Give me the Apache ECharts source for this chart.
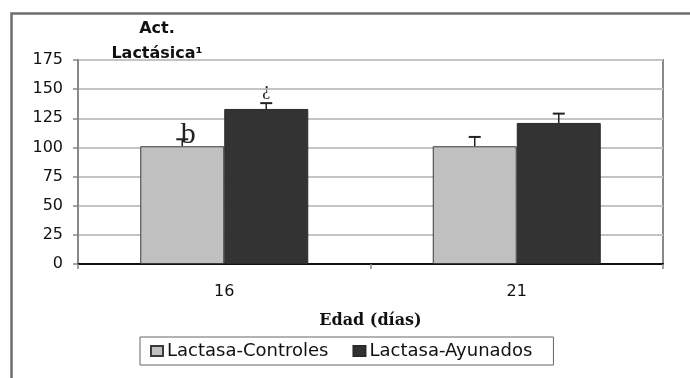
<!DOCTYPE html>
<html>
<head>
<meta charset="utf-8">
<script src="https://cdn.jsdelivr.net/npm/echarts@6/dist/echarts.min.js"></script>
<style>
  html, body { margin: 0; padding: 0; background: #fff; }
  #chart { width: 690px; height: 378px; }
</style>
</head>
<body>
<div id="chart"></div>
<script>
// Lactase activity by age, control vs fasted groups
const ages = ['16', '21'];
const controles = [101, 101];
const ayunados = [133, 121];
const errControles = [6, 8];
const errAyunados = [5, 8];
const marksControles = ['b', ''];
const marksAyunados = ['¿', ''];
const yTicks = { min: 0, max: 175, interval: 25 };

const BAR_W = 84;
const SANS = 'DejaVu Sans';
const SERIF = 'Liberation Serif';

function barData(values, marks) {
  return values.map((v, i) => ({
    value: v,
    label: { show: marks[i] !== '', formatter: marks[i] }
  }));
}

function errData(values, errs) {
  return values.map((v, i) => [i, v, errs[i]]);
}

function errorRenderer(offset) {
  return function (params, api) {
    const base = api.coord([api.value(0), api.value(1)]);
    const top = api.coord([api.value(0), api.value(1) + api.value(2)]);
    const x = base[0] + offset;
    return {
      type: 'group',
      children: [
        { type: 'line', shape: { x1: x, y1: base[1], x2: x, y2: top[1] },
          style: { stroke: '#222', lineWidth: 1.5 } },
        { type: 'line', shape: { x1: x - 6, y1: top[1], x2: x + 6, y2: top[1] },
          style: { stroke: '#222', lineWidth: 2 } }
      ]
    };
  };
}

const chart = echarts.init(document.getElementById('chart'), null, { renderer: 'canvas' });

chart.setOption({
  animation: false,
  backgroundColor: '#fff',
  title: {
    text: 'Act.\nLactásica¹',
    left: 157,
    top: 16,
    padding: 0,
    textAlign: 'center',
    textStyle: { fontFamily: SANS, fontSize: 16, fontWeight: 'bold', lineHeight: 25, color: '#111' }
  },
  graphic: [
    { type: 'rect', left: 9, top: 11, shape: { width: 720, height: 420 },
      style: { fill: 'none', stroke: '#6e6e6e', lineWidth: 2.5 }, silent: true, z: -1 }
  ],
  legend: {
    left: 140,
    top: 337,
    padding: [5, 21, 5, 10],
    itemWidth: 12,
    itemHeight: 10,
    itemGap: 24,
    icon: 'rect',
    borderColor: '#666',
    borderWidth: 1,
    textStyle: { fontFamily: SANS, fontSize: 18, color: '#111', padding: [0, 0, 0, -1] },
    data: ['Lactasa-Controles', 'Lactasa-Ayunados']
  },
  grid: {
    left: 78, right: 27, top: 60, bottom: 114,
    show: true, borderColor: '#888', borderWidth: 2
  },
  xAxis: {
    type: 'category',
    data: ages,
    name: 'Edad (días)',
    nameLocation: 'middle',
    nameGap: 49,
    nameTextStyle: { fontFamily: 'DejaVu Serif', fontSize: 16, fontWeight: 'bold', color: '#111' },
    axisLine: { lineStyle: { color: '#111', width: 2 } },
    axisTick: { show: true, interval: 0, length: 5, lineStyle: { color: '#888', width: 1.5 } },
    axisLabel: { margin: 20, fontFamily: SANS, fontSize: 16, color: '#111' }
  },
  yAxis: {
    type: 'value',
    min: yTicks.min, max: yTicks.max, interval: yTicks.interval,
    axisLine: { show: true, lineStyle: { color: '#888', width: 2 } },
    axisTick: { show: true, length: 5, lineStyle: { color: '#888', width: 1.5 } },
    axisLabel: { margin: 15, fontFamily: SANS, fontSize: 16, color: '#111' },
    splitLine: { show: true, lineStyle: { color: '#c4c4c4', width: 2 } }
  },
  series: [
    {
      name: 'Lactasa-Controles',
      type: 'bar',
      barWidth: BAR_W,
      barGap: '0%',
      data: barData(controles, marksControles),
      itemStyle: { color: '#c0c0c0', borderColor: '#3a3a3a', borderWidth: 1 },
      label: { position: 'top', distance: -4, offset: [6, 0], fontFamily: SERIF, fontSize: 30, color: '#222' }
    },
    {
      name: 'Lactasa-Ayunados',
      type: 'bar',
      barWidth: BAR_W,
      barGap: '0%',
      data: barData(ayunados, marksAyunados),
      itemStyle: { color: '#333333', borderColor: '#2a2a2a', borderWidth: 1 },
      label: { position: 'top', distance: 10, fontFamily: SERIF, fontSize: 18, color: '#222' }
    },
    {
      type: 'custom',
      renderItem: errorRenderer(-BAR_W / 2),
      data: errData(controles, errControles),
      z: 3
    },
    {
      type: 'custom',
      renderItem: errorRenderer(BAR_W / 2),
      data: errData(ayunados, errAyunados),
      z: 3
    }
  ]
});
</script>
</body>
</html>
